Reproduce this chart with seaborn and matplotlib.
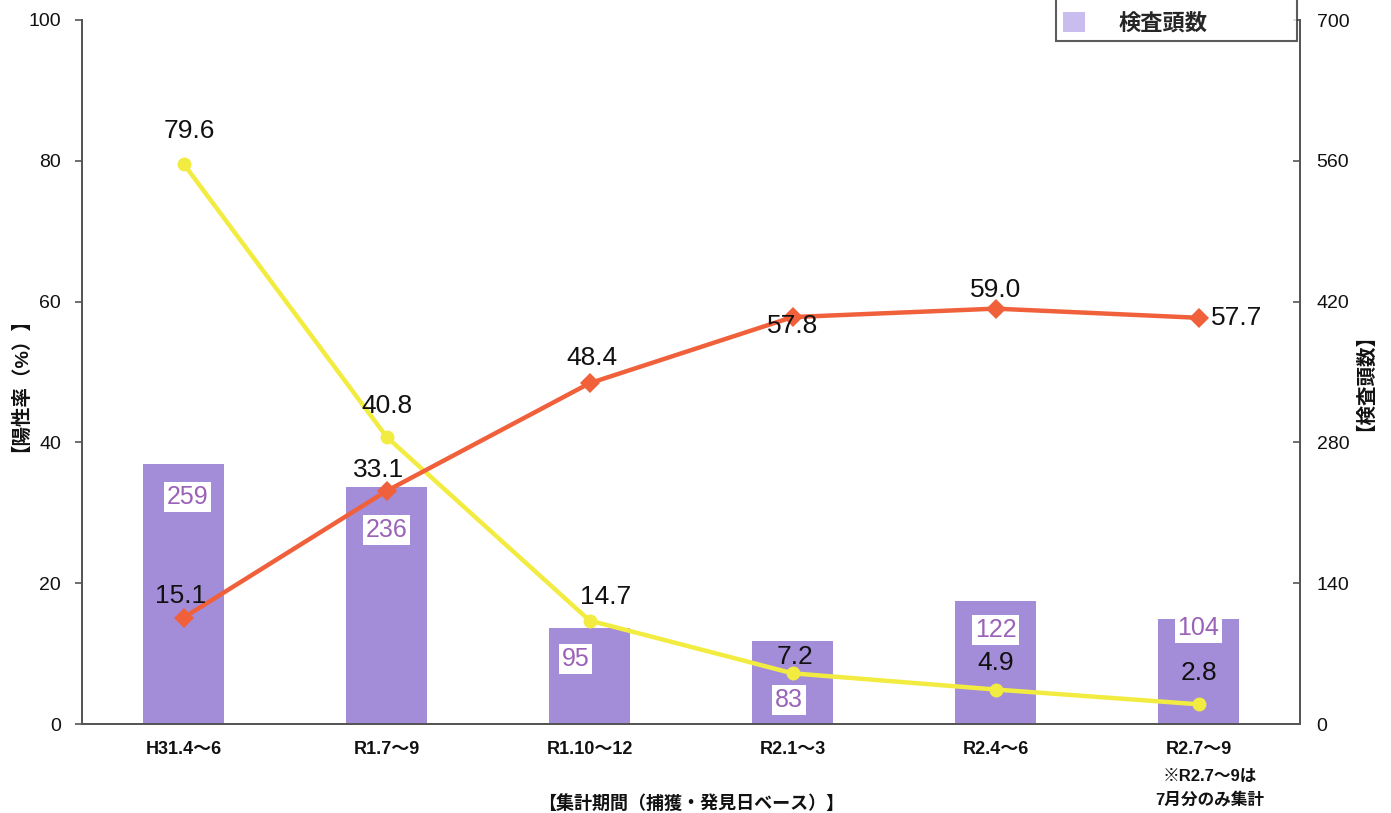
import matplotlib
matplotlib.use("Agg")
import matplotlib.pyplot as plt
import seaborn as sns
from matplotlib.lines import Line2D
from matplotlib.patches import Patch

# Survey periods (capture / discovery date basis)
periods = ["H31.4～6", "R1.7～9", "R1.10～12", "R2.1～3", "R2.4～6", "R2.7～9"]
# Number of animals tested per period
tested = [259, 236, 95, 83, 122, 104]
# Positive rates (%)
pcr_rate = [79.6, 40.8, 14.7, 7.2, 4.9, 2.8]
antibody_rate = [15.1, 33.1, 48.4, 57.8, 59.0, 57.7]

# label placement (pixel offsets from the data point)
pcr_offsets = [(6, 33), (0, 31), (16, 24), (3, 16), (0, 27), (0, 31)]
ab_offsets = [(-3, 22), (-8, 21), (2, 25), (0, -9), (0, 19), (38, 0)]
bar_label_offsets = [(4, -33), (0, -43), (-14, -31), (-4, -59), (0, -29), (0, -9)]

sns.set_theme(style="white")
plt.rcParams["font.family"] = ["Liberation Sans", "Noto Sans CJK JP"]

BAR = "#a38dd9"
BAR_TXT = "#9a62b8"
RED = "#f0603a"
YEL = "#f3ec40"

fig = plt.figure(figsize=(13.91, 8.13), dpi=100)
ax = fig.add_axes([82 / 1391, 89 / 813, 1218 / 1391, 704 / 813])

# bars on the right-hand scale
sns.barplot(x=periods, y=tested, ax=ax, color=BAR, saturation=1, width=0.4, linewidth=0)
ax.set_ylim(0, 700)
ax.set_xlim(-0.5, 5.5)
ax.set_yticks(range(0, 701, 140))

ax2 = ax.twinx()
xs = list(range(len(periods)))
sns.lineplot(x=xs, y=pcr_rate, ax=ax2, color=YEL, linewidth=3.2, marker="o",
             markersize=10, markeredgewidth=0, zorder=3)
sns.lineplot(x=xs, y=antibody_rate, ax=ax2, color=RED, linewidth=3.2, marker="D",
             markersize=10, markeredgewidth=0, zorder=4)
ax2.set_ylim(0, 100)
ax2.set_xlim(-0.5, 5.5)
ax2.set_yticks(range(0, 101, 20))

# counts scale on the right, rate scale on the left
ax.yaxis.tick_right()
ax2.yaxis.tick_left()

# value labels
for x, v, (dx, dy) in zip(xs, pcr_rate, pcr_offsets):
    ax2.annotate(f"{v:.1f}", (x, v), xytext=(dx, dy), textcoords="offset pixels",
                 ha="center", va="center", fontsize=19, color="#111111", zorder=6)
for x, v, (dx, dy) in zip(xs, antibody_rate, ab_offsets):
    ax2.annotate(f"{v:.1f}", (x, v), xytext=(dx, dy), textcoords="offset pixels",
                 ha="center", va="center", fontsize=19, color="#111111", zorder=6)
for x, v, (dx, dy) in zip(xs, tested, bar_label_offsets):
    ax.annotate(f"{v}", (x, v), xytext=(dx, dy), textcoords="offset pixels",
                ha="center", va="center", fontsize=18, color=BAR_TXT,
                bbox=dict(boxstyle="square,pad=0.12", fc="white", ec="none"))

# spines and ticks
for a in (ax, ax2):
    a.spines["top"].set_visible(False)
    for s in ("left", "right", "bottom"):
        a.spines[s].set_color("#555555")
        a.spines[s].set_linewidth(1.3)
    a.grid(False)

ax.tick_params(axis="y", which="both", direction="in", length=5, width=1.2,
               color="#555555", labelsize=14, pad=12, labelcolor="#111111")
ax2.tick_params(axis="y", which="both", direction="out", length=5, width=1.2,
                color="#555555", labelsize=14, pad=10, labelcolor="#111111")

ax.set_xticks(xs)
ax.set_xticklabels(periods, fontsize=13, fontweight="bold", color="#111111")
ax.set_xticks([i + 0.5 for i in range(-1, 6)], minor=True)
ax.tick_params(axis="x", which="major", length=0, pad=12)
ax.tick_params(axis="x", which="minor", direction="out", length=6, width=1.2,
               color="#555555")
ax2.tick_params(axis="x", which="both", length=0, labelbottom=False)

ax.set_xlabel("【集計期間（捕獲・発見日ベース）】", fontsize=13, fontweight="bold",
              color="#111111", va="center")
ax.xaxis.set_label_coords(0.5, (724 - 804) / 704)
ax.set_ylabel("【検査頭数】", fontsize=14, fontweight="bold", rotation=90,
              color="#111111", va="center", ha="center")
ax.yaxis.set_label_coords((1355 - 82) / 1218, (724 - 372) / 704)
ax2.set_ylabel("【陽性率（%）】", fontsize=14, fontweight="bold", rotation=90,
               color="#111111", va="center", ha="center")
ax2.yaxis.set_label_coords((11 - 82) / 1218, (724 - 375) / 704)

fig.text(1210 / 1391, 1 - 776 / 813, "※R2.7～9は", ha="center", va="center",
         fontsize=12, fontweight="bold", color="#111111")
fig.text(1210 / 1391, 1 - 800 / 813, "7月分のみ集計", ha="center", va="center",
         fontsize=12, fontweight="bold", color="#111111")

# legend (upper rows run off the top edge)
handles = [
    Line2D([0], [0], color=YEL, lw=3, marker="o", markersize=9),
    Line2D([0], [0], color=RED, lw=3, marker="D", markersize=9),
    Patch(facecolor="#c9bdf0", edgecolor="none"),
]
labels = ["PCR陽性率(%)", "抗体陽性率(%)", "検査頭数"]
leg = fig.legend(handles, labels, loc="lower left",
                 bbox_to_anchor=(1056 / 1391, 1 - 41 / 813, 241 / 1391, 0.2),
                 mode="expand", frameon=True, fancybox=False,
                 prop={"weight": "bold", "size": 16}, handlelength=1.0,
                 handleheight=1.0, borderpad=0.3, borderaxespad=0,
                 labelspacing=0.9, handletextpad=1.5)
leg.get_frame().set_edgecolor("#333333")
leg.get_frame().set_linewidth(1.5)

fig.savefig("out.png", dpi=100)
